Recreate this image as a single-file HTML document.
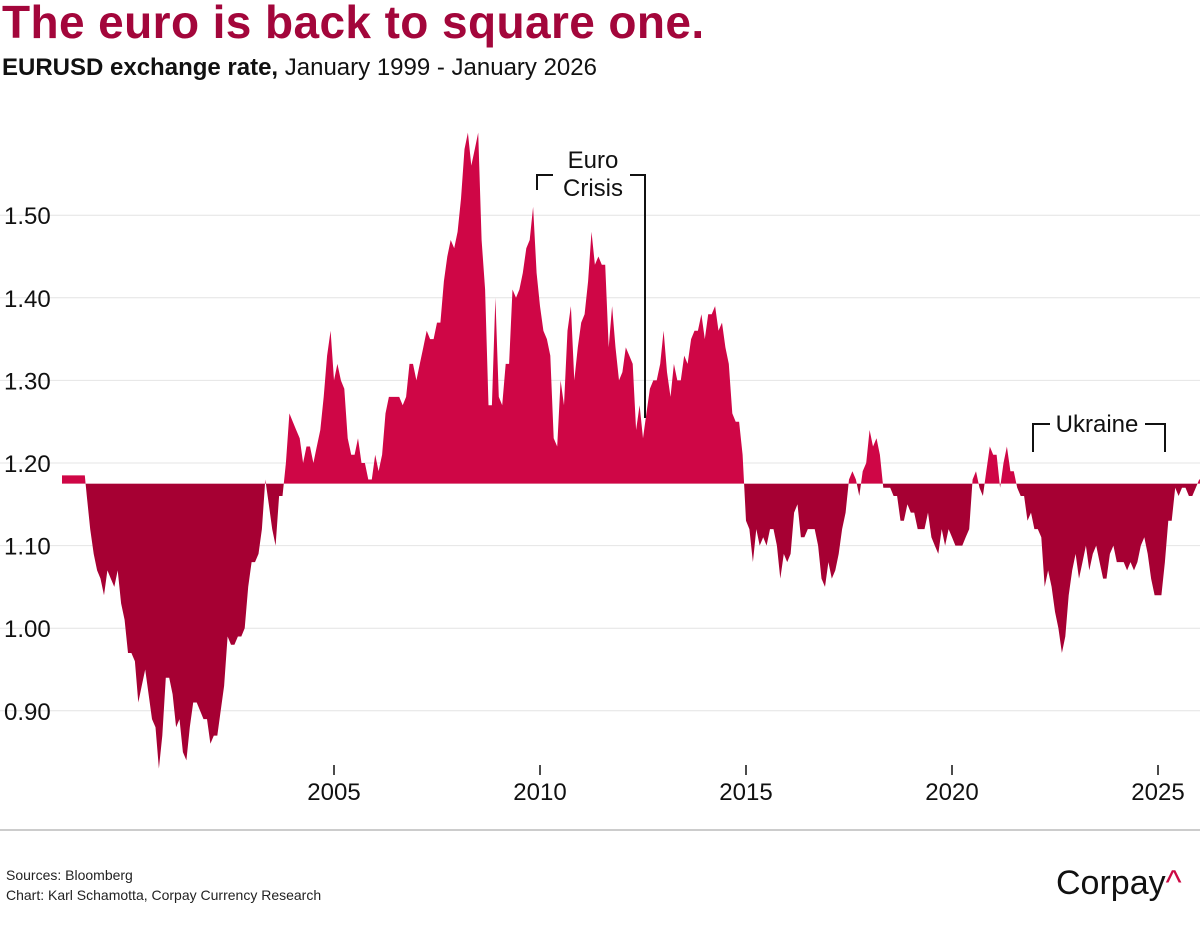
<!DOCTYPE html>
<html><head><meta charset="utf-8"><style>
body{margin:0;background:#fff;font-family:"Liberation Sans",sans-serif;}
#wrap{position:relative;width:1200px;height:945px;overflow:hidden;}
</style></head><body>
<div id="wrap">
<div style="position:absolute;left:2px;top:-5px;font-size:46px;font-weight:bold;color:#a3063b;letter-spacing:0.4px">The euro is back to square one.</div>
<div style="position:absolute;left:2px;top:54px;font-size:24px;color:#111"><b>EURUSD exchange rate,</b> January 1999 - January 2026</div>
<svg id="chart" width="1200" height="945" style="position:absolute;left:0;top:0"></svg>
<div style="position:absolute;left:6px;top:867px;font-size:14px;color:#222">Sources: Bloomberg</div>
<div style="position:absolute;left:6px;top:887px;font-size:14px;color:#222">Chart: Karl Schamotta, Corpay Currency Research</div>
<div style="position:absolute;left:1056px;top:864px;font-size:34px;color:#111">Corpay<span style="color:#cc0a45">^</span></div>
</div>
<script>
const years=[2005,2010,2015,2020,2025];
const yTicks=[0.90,1.00,1.10,1.20,1.30,1.40,1.50];
const yTickLabels=["0.90","1.00","1.10","1.20","1.30","1.40","1.50"];
const baseline=1.175;
const startYear=1999;
const rates=[
1.16,1.12,1.09,1.07,1.06,1.04,1.07,1.06,1.05,1.07,1.03,1.01,
0.97,0.97,0.96,0.91,0.93,0.95,0.92,0.89,0.88,0.83,0.87,0.94,
0.94,0.92,0.88,0.89,0.85,0.84,0.88,0.91,0.91,0.90,0.89,0.89,
0.86,0.87,0.87,0.90,0.93,0.99,0.98,0.98,0.99,0.99,1.00,1.05,
1.08,1.08,1.09,1.12,1.18,1.15,1.12,1.10,1.16,1.16,1.20,1.26,
1.25,1.24,1.23,1.20,1.22,1.22,1.20,1.22,1.24,1.28,1.33,1.36,
1.30,1.32,1.30,1.29,1.23,1.21,1.21,1.23,1.20,1.20,1.18,1.18,
1.21,1.19,1.21,1.26,1.28,1.28,1.28,1.28,1.27,1.28,1.32,1.32,
1.30,1.32,1.34,1.36,1.35,1.35,1.37,1.37,1.42,1.45,1.47,1.46,
1.48,1.52,1.58,1.60,1.56,1.58,1.60,1.47,1.41,1.27,1.27,1.40,
1.28,1.27,1.32,1.32,1.41,1.40,1.41,1.43,1.46,1.47,1.51,1.43,
1.39,1.36,1.35,1.33,1.23,1.22,1.30,1.27,1.36,1.39,1.30,1.34,
1.37,1.38,1.42,1.48,1.44,1.45,1.44,1.44,1.34,1.39,1.34,1.30,
1.31,1.34,1.33,1.32,1.24,1.27,1.23,1.26,1.29,1.30,1.30,1.32,
1.36,1.31,1.28,1.32,1.30,1.30,1.33,1.32,1.35,1.36,1.36,1.38,
1.35,1.38,1.38,1.39,1.36,1.37,1.34,1.32,1.26,1.25,1.25,1.21,
1.13,1.12,1.08,1.12,1.10,1.11,1.10,1.12,1.12,1.10,1.06,1.09,
1.08,1.09,1.14,1.15,1.11,1.11,1.12,1.12,1.12,1.10,1.06,1.05,
1.08,1.06,1.07,1.09,1.12,1.14,1.18,1.19,1.18,1.16,1.19,1.20,
1.24,1.22,1.23,1.21,1.17,1.17,1.17,1.16,1.16,1.13,1.13,1.15,
1.14,1.14,1.12,1.12,1.12,1.14,1.11,1.10,1.09,1.12,1.10,1.12,
1.11,1.10,1.10,1.10,1.11,1.12,1.18,1.19,1.17,1.16,1.19,1.22,
1.21,1.21,1.17,1.20,1.22,1.19,1.19,1.17,1.16,1.16,1.13,1.14,
1.12,1.12,1.11,1.05,1.07,1.05,1.02,1.00,0.97,0.99,1.04,1.07,
1.09,1.06,1.08,1.10,1.07,1.09,1.10,1.08,1.06,1.06,1.09,1.10,
1.08,1.08,1.08,1.07,1.08,1.07,1.08,1.10,1.11,1.09,1.06,1.04,
1.04,1.04,1.08,1.13,1.13,1.17,1.16,1.17,1.17,1.16,1.16,1.17,
1.18];
const NS="http://www.w3.org/2000/svg";
const svg=document.getElementById('chart');
const x=t=>334+(t-2005)*41.2;
const y=v=>463-(v-1.20)*826;
function mk(tag,attrs,parent){const e=document.createElementNS(NS,tag);for(const k in attrs)e.setAttribute(k,attrs[k]);(parent||svg).appendChild(e);return e;}
yTicks.forEach((v,i)=>{
 const g=mk('line',{x1:0,x2:1200,y1:y(v),y2:y(v),stroke:'#e4e4e4','stroke-width':1});
 
 
 const t=mk('text',{x:4,y:y(v)+9,'font-size':24,fill:'#111','font-family':'Liberation Sans'});
 t.textContent=yTickLabels[i];
 
 
});
const defs=mk('defs',{});
const by=y(baseline);
const ca=mk('clipPath',{id:'above'},defs);mk('rect',{x:0,y:0,width:1200,height:by},ca);
const cb=mk('clipPath',{id:'below'},defs);mk('rect',{x:0,y:by,width:1200,height:945},cb);
let d='M62,'+by+' L62,'+y(1.185).toFixed(1)+' L'+(x(startYear)-2)+','+y(1.185).toFixed(1);
rates.forEach((v,i)=>{d+=' L'+x(startYear+i/12).toFixed(1)+','+y(v).toFixed(1);});
const xe=Math.max(1200,x(startYear+(rates.length-1)/12));
d+=' L'+xe+','+y(rates[rates.length-1]).toFixed(1)+' L'+xe+','+by+' Z';
const a1=mk('path',{d:d,fill:'#cf0646','clip-path':'url(#above)'});


const a2=mk('path',{d:d,fill:'#a60033','clip-path':'url(#below)'});


years.forEach(yr=>{
 const t=mk('text',{x:x(yr),y:800,'font-size':24,fill:'#111','text-anchor':'middle','font-family':'Liberation Sans'});
 t.textContent=yr;
 
 
 const tk=mk('line',{x1:x(yr),x2:x(yr),y1:765,y2:775,stroke:'#111','stroke-width':1.5});
 
 
});
const bl=mk('line',{x1:0,x2:1200,y1:830,y2:830,stroke:'#bbb','stroke-width':1.5});


const e1=mk('path',{d:'M537,190 V175 H553 M630,175 H645 V418',fill:'none',stroke:'#111','stroke-width':2});


[['Euro',168],['Crisis',196]].forEach(([s,yy])=>{const t=mk('text',{x:593,y:yy,'font-size':24,fill:'#111','text-anchor':'middle','font-family':'Liberation Sans'});t.textContent=s;
 
 });
const e2=mk('path',{d:'M1033,452 V424 H1050 M1145,424 H1165 V452',fill:'none',stroke:'#111','stroke-width':2});


const ut=mk('text',{x:1097,y:432,'font-size':24,fill:'#111','text-anchor':'middle','font-family':'Liberation Sans'});ut.textContent='Ukraine';


</script>
</body></html>
